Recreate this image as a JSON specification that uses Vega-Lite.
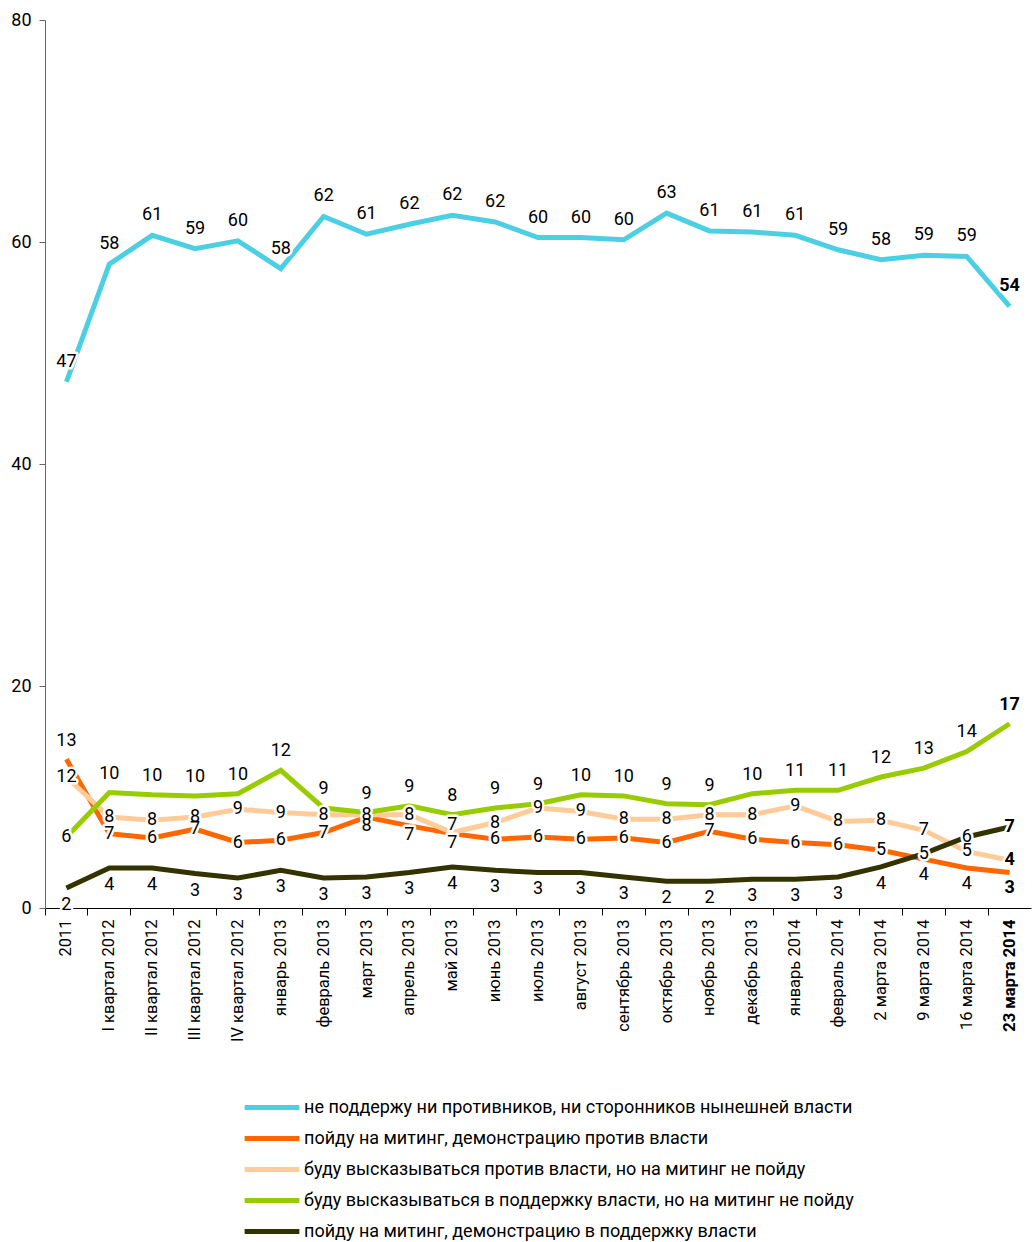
{
  "$schema": "https://vega.github.io/schema/vega-lite/v6.json",
  "width": 986,
  "height": 888,
  "autosize": {"type": "none"},
  "padding": {"left": 45, "top": 20, "right": 1, "bottom": 334},
  "config": {
    "view": {"stroke": null},
    "font": "Roboto",
    "axis": {"grid": false, "title": null}
  },
  "data": {
    "values": [
      {"d": "2011", "s": "A", "v": 47.4}, {"d": "I квартал 2012", "s": "A", "v": 58.0}, {"d": "II квартал 2012", "s": "A", "v": 60.6}, {"d": "III квартал 2012", "s": "A", "v": 59.4}, {"d": "IV квартал 2012", "s": "A", "v": 60.1}, {"d": "январь 2013", "s": "A", "v": 57.6}, {"d": "февраль 2013", "s": "A", "v": 62.3}, {"d": "март 2013", "s": "A", "v": 60.7}, {"d": "апрель 2013", "s": "A", "v": 61.6}, {"d": "май 2013", "s": "A", "v": 62.4}, {"d": "июнь 2013", "s": "A", "v": 61.8}, {"d": "июль 2013", "s": "A", "v": 60.4}, {"d": "август 2013", "s": "A", "v": 60.4}, {"d": "сентябрь 2013", "s": "A", "v": 60.2}, {"d": "октябрь 2013", "s": "A", "v": 62.6}, {"d": "ноябрь 2013", "s": "A", "v": 61.0}, {"d": "декабрь 2013", "s": "A", "v": 60.9}, {"d": "январь 2014", "s": "A", "v": 60.6}, {"d": "февраль 2014", "s": "A", "v": 59.3}, {"d": "2 марта 2014", "s": "A", "v": 58.4}, {"d": "9 марта 2014", "s": "A", "v": 58.8}, {"d": "16 марта 2014", "s": "A", "v": 58.7}, {"d": "23 марта 2014", "s": "A", "v": 54.2},
      {"d": "2011", "s": "B", "v": 13.4}, {"d": "I квартал 2012", "s": "B", "v": 6.7}, {"d": "II квартал 2012", "s": "B", "v": 6.3}, {"d": "III квартал 2012", "s": "B", "v": 7.1}, {"d": "IV квартал 2012", "s": "B", "v": 5.9}, {"d": "январь 2013", "s": "B", "v": 6.1}, {"d": "февраль 2013", "s": "B", "v": 6.8}, {"d": "март 2013", "s": "B", "v": 8.2}, {"d": "апрель 2013", "s": "B", "v": 7.4}, {"d": "май 2013", "s": "B", "v": 6.7}, {"d": "июнь 2013", "s": "B", "v": 6.2}, {"d": "июль 2013", "s": "B", "v": 6.4}, {"d": "август 2013", "s": "B", "v": 6.2}, {"d": "сентябрь 2013", "s": "B", "v": 6.3}, {"d": "октябрь 2013", "s": "B", "v": 5.9}, {"d": "ноябрь 2013", "s": "B", "v": 6.9}, {"d": "декабрь 2013", "s": "B", "v": 6.2}, {"d": "январь 2014", "s": "B", "v": 5.9}, {"d": "февраль 2014", "s": "B", "v": 5.7}, {"d": "2 марта 2014", "s": "B", "v": 5.2}, {"d": "9 марта 2014", "s": "B", "v": 4.4}, {"d": "16 марта 2014", "s": "B", "v": 3.6}, {"d": "23 марта 2014", "s": "B", "v": 3.2},
      {"d": "2011", "s": "C", "v": 11.8}, {"d": "I квартал 2012", "s": "C", "v": 8.2}, {"d": "II квартал 2012", "s": "C", "v": 7.9}, {"d": "III квартал 2012", "s": "C", "v": 8.2}, {"d": "IV квартал 2012", "s": "C", "v": 8.9}, {"d": "январь 2013", "s": "C", "v": 8.6}, {"d": "февраль 2013", "s": "C", "v": 8.4}, {"d": "март 2013", "s": "C", "v": 8.4}, {"d": "апрель 2013", "s": "C", "v": 8.4}, {"d": "май 2013", "s": "C", "v": 6.8}, {"d": "июнь 2013", "s": "C", "v": 7.7}, {"d": "июль 2013", "s": "C", "v": 9.0}, {"d": "август 2013", "s": "C", "v": 8.7}, {"d": "сентябрь 2013", "s": "C", "v": 8.0}, {"d": "октябрь 2013", "s": "C", "v": 8.0}, {"d": "ноябрь 2013", "s": "C", "v": 8.4}, {"d": "декабрь 2013", "s": "C", "v": 8.4}, {"d": "январь 2014", "s": "C", "v": 9.2}, {"d": "февраль 2014", "s": "C", "v": 7.8}, {"d": "2 марта 2014", "s": "C", "v": 7.9}, {"d": "9 марта 2014", "s": "C", "v": 7.0}, {"d": "16 марта 2014", "s": "C", "v": 5.1}, {"d": "23 марта 2014", "s": "C", "v": 4.3},
      {"d": "2011", "s": "D", "v": 6.4}, {"d": "I квартал 2012", "s": "D", "v": 10.4}, {"d": "II квартал 2012", "s": "D", "v": 10.2}, {"d": "III квартал 2012", "s": "D", "v": 10.1}, {"d": "IV квартал 2012", "s": "D", "v": 10.3}, {"d": "январь 2013", "s": "D", "v": 12.4}, {"d": "февраль 2013", "s": "D", "v": 9.0}, {"d": "март 2013", "s": "D", "v": 8.6}, {"d": "апрель 2013", "s": "D", "v": 9.2}, {"d": "май 2013", "s": "D", "v": 8.4}, {"d": "июнь 2013", "s": "D", "v": 9.0}, {"d": "июль 2013", "s": "D", "v": 9.4}, {"d": "август 2013", "s": "D", "v": 10.2}, {"d": "сентябрь 2013", "s": "D", "v": 10.1}, {"d": "октябрь 2013", "s": "D", "v": 9.4}, {"d": "ноябрь 2013", "s": "D", "v": 9.3}, {"d": "декабрь 2013", "s": "D", "v": 10.3}, {"d": "январь 2014", "s": "D", "v": 10.6}, {"d": "февраль 2014", "s": "D", "v": 10.6}, {"d": "2 марта 2014", "s": "D", "v": 11.8}, {"d": "9 марта 2014", "s": "D", "v": 12.6}, {"d": "16 марта 2014", "s": "D", "v": 14.1}, {"d": "23 марта 2014", "s": "D", "v": 16.6},
      {"d": "2011", "s": "E", "v": 1.8}, {"d": "I квартал 2012", "s": "E", "v": 3.6}, {"d": "II квартал 2012", "s": "E", "v": 3.6}, {"d": "III квартал 2012", "s": "E", "v": 3.1}, {"d": "IV квартал 2012", "s": "E", "v": 2.7}, {"d": "январь 2013", "s": "E", "v": 3.4}, {"d": "февраль 2013", "s": "E", "v": 2.7}, {"d": "март 2013", "s": "E", "v": 2.8}, {"d": "апрель 2013", "s": "E", "v": 3.2}, {"d": "май 2013", "s": "E", "v": 3.7}, {"d": "июнь 2013", "s": "E", "v": 3.4}, {"d": "июль 2013", "s": "E", "v": 3.2}, {"d": "август 2013", "s": "E", "v": 3.2}, {"d": "сентябрь 2013", "s": "E", "v": 2.8}, {"d": "октябрь 2013", "s": "E", "v": 2.4}, {"d": "ноябрь 2013", "s": "E", "v": 2.4}, {"d": "декабрь 2013", "s": "E", "v": 2.6}, {"d": "январь 2014", "s": "E", "v": 2.6}, {"d": "февраль 2014", "s": "E", "v": 2.8}, {"d": "2 марта 2014", "s": "E", "v": 3.7}, {"d": "9 марта 2014", "s": "E", "v": 4.9}, {"d": "16 марта 2014", "s": "E", "v": 6.4}, {"d": "23 марта 2014", "s": "E", "v": 7.3}
    ]
  },
  "encoding": {
    "x": {
      "field": "d",
      "type": "ordinal",
      "sort": null,
      "bandPosition": 0.5,
      "scale": {"type": "band", "paddingInner": 0, "paddingOuter": 0},
      "axis": {
        "bandPosition": 0,
        "labelAngle": -90,
        "labelAlign": "right",
        "labelBaseline": "middle",
        "labelFontSize": 16.5,
        "labelColor": "#000",
        "labelPadding": 4,
        "labelFontWeight": {"condition": {"test": "datum.value === '23 марта 2014'", "value": "bold"}, "value": "normal"},
        "domainColor": "#000",
        "tickColor": "#000",
        "tickSize": 7
      }
    },
    "y": {
      "field": "v",
      "type": "quantitative",
      "scale": {"domain": [0, 80]},
      "axis": {
        "values": [0, 20, 40, 60, 80],
        "labelFontSize": 18,
        "labelColor": "#000",
        "labelPadding": 8,
        "domainColor": "#666",
        "tickColor": "#666",
        "tickSize": 6
      }
    }
  },
  "layer": [
    {
      "mark": {"type": "line", "strokeWidth": 5, "strokeJoin": "miter"},
      "encoding": {
        "color": {
          "field": "s",
          "type": "nominal",
          "scale": {"domain": ["A", "B", "C", "D", "E"], "range": ["#4DCFE3", "#FF6600", "#FFCC99", "#99CC00", "#333300"]},
          "legend": {
            "orient": "none",
            "legendX": 197,
            "legendY": 1072,
            "direction": "vertical",
            "title": null,
            "symbolType": "stroke",
            "symbolStrokeWidth": 5,
            "symbolSize": 3000,
            "clipHeight": 31,
            "labelFontSize": 18,
            "labelColor": "#000",
            "labelOffset": 2,
            "labelLimit": 0,
            "rowPadding": 0,
            "labelExpr": "datum.value === 'A' ? 'не поддержу ни противников, ни сторонников нынешней власти' : datum.value === 'B' ? 'пойду на митинг, демонстрацию против  власти' : datum.value === 'C' ? 'буду высказываться против власти, но на митинг не пойду' : datum.value === 'D' ? 'буду высказываться в поддержку власти, но на митинг не пойду' : 'пойду на митинг, демонстрацию в поддержку  власти'"
          }
        }
      }
    },
    {
      "mark": {
        "type": "text",
        "fontSize": 18,
        "baseline": "middle",
        "stroke": "#fff",
        "strokeWidth": 5,
        "strokeJoin": "round",
        "fill": "#fff",
        "fontWeight": {"expr": "datum.d === '23 марта 2014' ? 'bold' : 'normal'"},
        "dy": {"expr": "datum.s === 'A' ? -20 : datum.s === 'D' ? (datum.d === '2011' ? 0 : -19) : datum.s === 'B' ? (datum.d === '2011' ? -18 : indexof(['март 2013','апрель 2013','май 2013'], datum.d) >= 0 ? 9 : indexof(['9 марта 2014','16 марта 2014','23 марта 2014'], datum.d) >= 0 ? 16 : 0) : datum.s === 'C' ? (datum.d === 'май 2013' ? -8 : 0) : (indexof(['9 марта 2014','16 марта 2014','23 марта 2014'], datum.d) >= 0 ? 0 : 17)"}
      },
      "encoding": {"text": {"field": "v", "type": "quantitative", "format": ".0f"}}
    },
    {
      "mark": {
        "type": "text",
        "fontSize": 18,
        "baseline": "middle",
        "fill": "#000",
        "fontWeight": {"expr": "datum.d === '23 марта 2014' ? 'bold' : 'normal'"},
        "dy": {"expr": "datum.s === 'A' ? -20 : datum.s === 'D' ? (datum.d === '2011' ? 0 : -19) : datum.s === 'B' ? (datum.d === '2011' ? -18 : indexof(['март 2013','апрель 2013','май 2013'], datum.d) >= 0 ? 9 : indexof(['9 марта 2014','16 марта 2014','23 марта 2014'], datum.d) >= 0 ? 16 : 0) : datum.s === 'C' ? (datum.d === 'май 2013' ? -8 : 0) : (indexof(['9 марта 2014','16 марта 2014','23 марта 2014'], datum.d) >= 0 ? 0 : 17)"}
      },
      "encoding": {"text": {"field": "v", "type": "quantitative", "format": ".0f"}}
    }
  ]
}
